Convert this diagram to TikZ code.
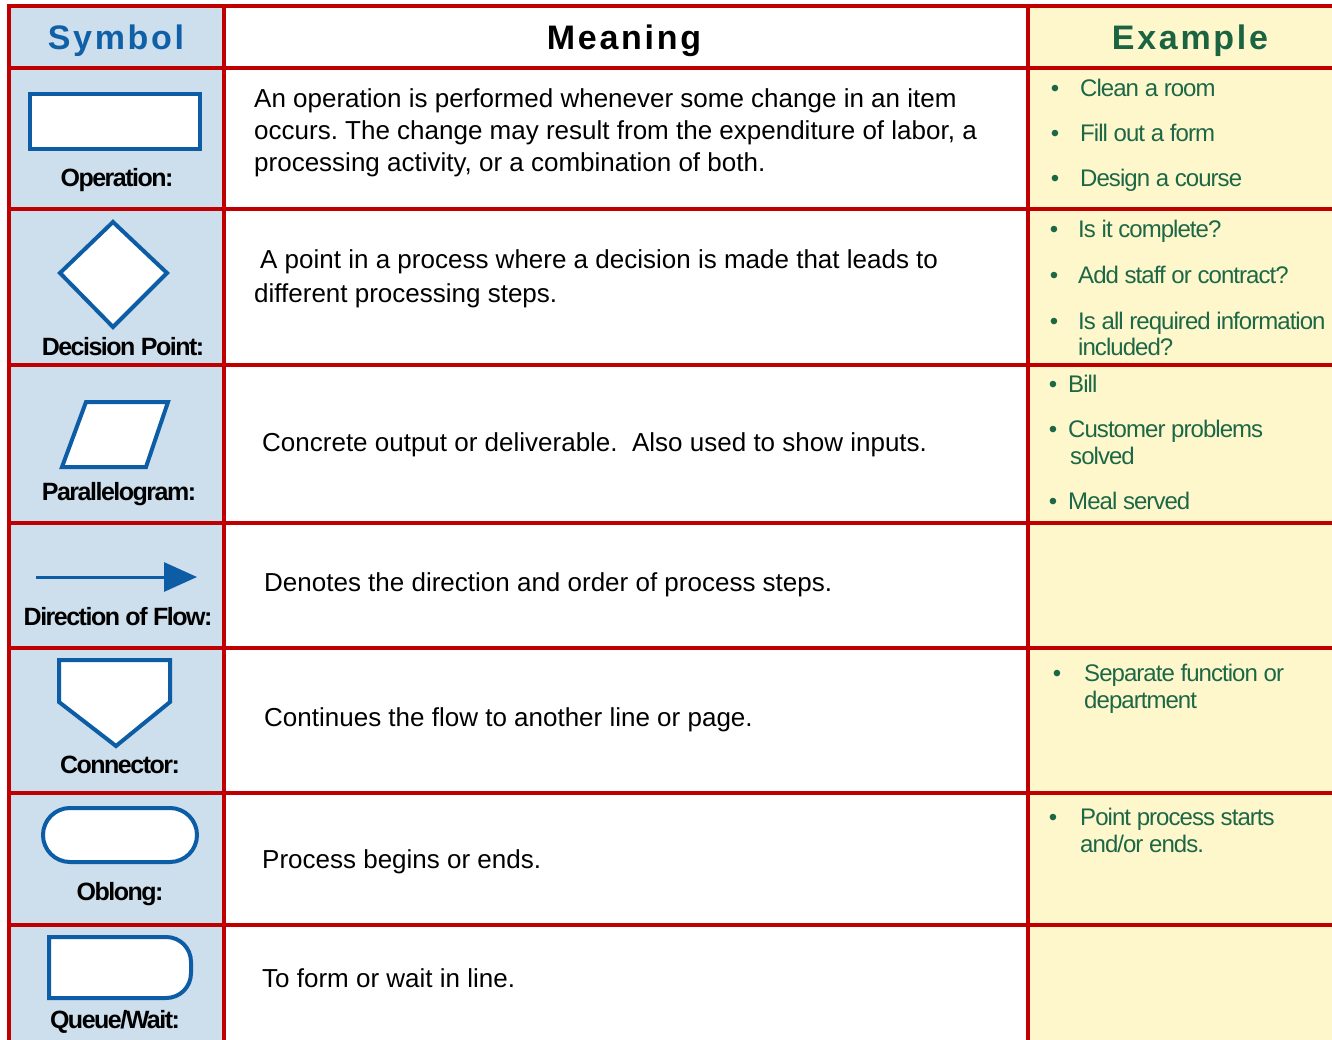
\documentclass[tikz,border=0pt]{standalone}
\usepackage{fontspec}
\setmainfont{Liberation Sans}
\newfontfamily\labf[LetterSpace=-6]{Liberation Sans}
\newfontfamily\hdrf[LetterSpace=8]{Liberation Sans}
\newfontfamily\exf[LetterSpace=-4]{Liberation Sans}
\usetikzlibrary{arrows.meta}
\frenchspacing
\definecolor{gridred}{RGB}{192,0,0}
\definecolor{bluebg}{RGB}{205,222,236}
\definecolor{yellowbg}{RGB}{255,247,204}
\definecolor{symblue}{RGB}{12,92,166}
\definecolor{hdrblue}{RGB}{16,96,168}
\definecolor{exgreen}{RGB}{28,104,70}
\definecolor{hdrgreen}{RGB}{26,100,66}
\tikzset{
 mtext/.style={anchor=base west, inner sep=0pt, font=\frenchspacing\fontsize{26}{31}\selectfont, text=black},
 etext/.style={anchor=base west, inner sep=0pt, font=\exf\fontsize{24}{28}\selectfont, text=exgreen},
 bul/.style={anchor=base, inner sep=0pt, font=\fontsize{24}{28}\selectfont, text=exgreen},
 lab/.style={anchor=base, inner sep=0pt, font=\labf\bfseries\fontsize{25}{30}\selectfont, text=black},
 hdr/.style={anchor=base, inner sep=0pt, font=\hdrf\bfseries\fontsize{34}{40}\selectfont},
 sym/.style={draw=symblue, line width=4pt, fill=white, line join=miter},
 gridline/.style={draw=gridred, line width=4pt},
}
\begin{document}
\begin{tikzpicture}[x=1pt,y=-1pt]
\useasboundingbox (0,0) rectangle (1332,1040);
\fill[white] (0,0) rectangle (1332,1040);
% backgrounds
\fill[bluebg] (8,6) rectangle (224,1040);
\fill[yellowbg] (1028,6) rectangle (1332,1040);
% grid
\foreach \yy in {6,68,209,365,523,648,793,925}
  \draw[gridline] (6.5,\yy) -- (1332,\yy);
\foreach \xx in {8.5,224,1028}
  \draw[gridline] (\xx,4) -- (\xx,1040);
% headers
\node[hdr, text=hdrblue] (hsym) at (116,50) {Symbol};
\node[hdr, text=black] (hmean) at (624,50) {Meaning};
\node[hdr, text=hdrgreen] (hex) at (1190,50) {Example};
% symbols
\draw[sym] (30,94) rectangle (200,149);
\node[lab] (lop) at (117,187) {Operation:};
\draw[sym] (113,222) -- (167,273) -- (113,327) -- (60,273) -- cycle;
\node[lab] (ldec) at (123,355) {Decision Point:};
\draw[sym] (86,402) -- (168,402) -- (146,467) -- (62,467) -- cycle;
\node[lab] (lpar) at (119,500) {Parallelogram:};
\coordinate (fa) at (36,577);
\coordinate (fb) at (197,577);
\draw[draw=symblue, line width=3pt, -{Triangle[length=33pt,width=29pt]}] (fa) -- (fb);
\node[lab] (lflow) at (118,625) {Direction of Flow:};
\draw[sym] (59,660) -- (170,660) -- (170,702) -- (116,746) -- (59,702) -- cycle;
\node[lab] (lcon) at (120,773) {Connector:};
\draw[sym, rounded corners=27pt] (43,808) rectangle (197,862);
\node[lab] (lobl) at (120,900) {Oblong:};
\draw[sym] (49,937) -- (166,937) .. controls (180,937) and (191,948) .. (191,962) -- (191,973) .. controls (191,987) and (180,998) .. (166,998) -- (49,998) -- cycle;
\node[lab] (lque) at (115,1028) {Queue/Wait:};
% meaning column
\node[mtext] (m1a) at (254,108) {An operation is performed whenever some change in an item};
\node[mtext] (m1b) at (254,140) {occurs. The change may result from the expenditure of labor, a};
\node[mtext] (m1c) at (254,172) {processing activity, or a combination of both.};
\node[mtext] (m2a) at (260,269) {A point in a process where a decision is made that leads to};
\node[mtext] (m2b) at (254,302) {different processing steps.};
\node[mtext] (m3) at (262,451) {Concrete output or deliverable.\ \ Also used to show inputs.};
\node[mtext] (m4) at (264,591) {Denotes the direction and order of process steps.};
\node[mtext] (m5) at (264,726) {Continues the flow to another line or page.};
\node[mtext] (m6) at (262,868) {Process begins or ends.};
\node[mtext] (m7) at (262,987) {To form or wait in line.};
% example column
\node[bul] (b1a) at (1055,97) {•};
\node[etext] (e1a) at (1080,97) {Clean a room};
\node[bul] (b1b) at (1055,142) {•};
\node[etext] (e1b) at (1080,142) {Fill out a form};
\node[bul] (b1c) at (1055,187) {•};
\node[etext] (e1c) at (1080,187) {Design a course};
\node[bul] (b2a) at (1054,238) {•};
\node[etext] (e2a) at (1078,238) {Is it complete?};
\node[bul] (b2b) at (1054,284) {•};
\node[etext] (e2b) at (1078,284) {Add staff or contract?};
\node[bul] (b2c) at (1054,329) {•};
\node[etext] (e2c) at (1078,329) {Is all required information};
\node[etext] (e2d) at (1078,355) {included?};
\node[bul] (b3a) at (1053,392) {•};
\node[etext] (e3a) at (1068,392) {Bill};
\node[bul] (b3b) at (1053,437) {•};
\node[etext] (e3b) at (1068,437) {Customer problems};
\node[etext] (e3c) at (1070,464) {solved};
\node[bul] (b3d) at (1053,509) {•};
\node[etext] (e3d) at (1068,509) {Meal served};
\node[bul] (b5a) at (1057,681) {•};
\node[etext] (e5a) at (1084,681) {Separate function or};
\node[etext] (e5b) at (1084,708) {department};
\node[bul] (b6a) at (1053,825) {•};
\node[etext] (e6a) at (1080,825) {Point process starts};
\node[etext] (e6b) at (1080,852) {and/or ends.};
\end{tikzpicture}
\end{document}
